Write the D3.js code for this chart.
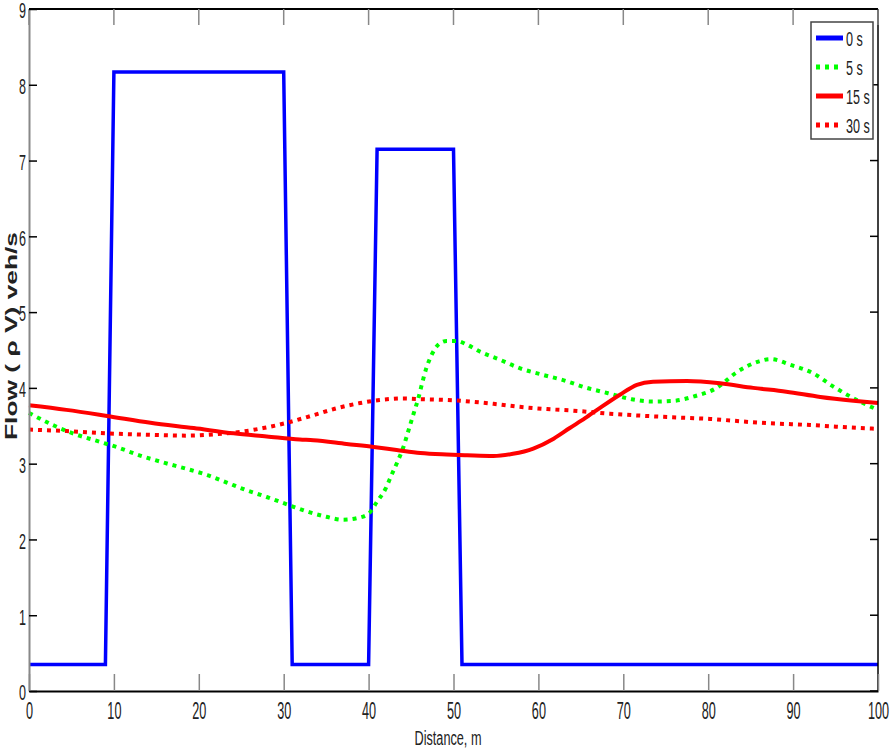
<!DOCTYPE html>
<meta charset="utf-8" />
<script src="https://d3js.org/d3.v7.min.js"></script>
<body style="margin:0;background:#fff">
<div id="my_dataviz"></div>
<script>
  // values
  const xTicks = [0, 10, 20, 30, 40, 50, 60, 70, 80, 90, 100];
  const yTicks = [0, 1, 2, 3, 4, 5, 6, 7, 8, 9];
  const seriesNames = ["0 s", "5 s", "15 s", "30 s"];

  const x0s = [0, 9, 10, 30, 31, 40, 41, 50, 51, 100];
  const y0s = [0.35, 0.35, 8.17, 8.17, 0.35, 0.35, 7.15, 7.15, 0.35, 0.35];

  const x5s = [0, 3, 5.4, 8, 10.3, 13, 16, 18.6, 21, 23.3, 25.6, 28, 30.7, 33, 35, 37, 38.6, 40, 41,
    42, 42.7, 43.5, 44.1, 44.7, 45.3, 45.9, 46.3, 46.8, 47.4, 48.2, 49.2, 50.4, 51.6, 53.1, 55.5,
    57.8, 60.6, 63, 65.7, 68.2, 71, 73.5, 76, 78.4, 81, 83.4, 86, 87.3, 89.8, 92.4, 94.7, 97.5, 100];
  const y5s = [3.67, 3.5, 3.39, 3.3, 3.22, 3.11, 3.01, 2.93, 2.85, 2.75, 2.65, 2.56, 2.45, 2.36, 2.3, 2.26, 2.28, 2.34, 2.5,
    2.67, 2.85, 3.05, 3.22, 3.44, 3.66, 3.88, 4.06, 4.26, 4.43, 4.57, 4.62, 4.62, 4.57, 4.48, 4.37,
    4.26, 4.17, 4.1, 4.0, 3.93, 3.85, 3.82, 3.83, 3.89, 4.0, 4.21, 4.35, 4.38, 4.3, 4.19, 4.02, 3.84, 3.71];

  const x15s = [0, 4.4, 9.2, 14.3, 19.4, 24.1, 28, 31.9, 33.5, 37.4, 40.6, 43.3, 46.1, 49.2, 51.6, 54.7,
    57, 59.4, 61.8, 63.7, 65.5, 67.3, 69.6, 71.6, 73.5, 77.5, 81.4, 85.3, 89.2, 93.2, 97.1, 100];
  const y15s = [3.77, 3.71, 3.63, 3.54, 3.47, 3.4, 3.36, 3.32, 3.31, 3.26, 3.22, 3.18, 3.14, 3.12, 3.11, 3.1,
    3.13, 3.2, 3.33, 3.47, 3.6, 3.74, 3.91, 4.04, 4.08, 4.09, 4.06, 4.0, 3.95, 3.88, 3.83, 3.8];

  const x30s = [0, 4.4, 9.2, 14.3, 18.6, 22.1, 24.9, 27.6, 30.4, 33.5, 36.2, 39, 41.3, 44.1, 46.4, 49.2,
    51.9, 54.7, 57.8, 61, 64.1, 68.4, 74.3, 80.2, 86.1, 92, 97.9, 100];
  const y30s = [3.45, 3.43, 3.4, 3.38, 3.37, 3.39, 3.42, 3.47, 3.54, 3.64, 3.73, 3.8, 3.84, 3.86, 3.85, 3.84,
    3.82, 3.79, 3.75, 3.72, 3.7, 3.66, 3.62, 3.59, 3.54, 3.51, 3.47, 3.46];

  const colors = ["#0000ff", "#00ff00", "#ff0000", "#ff0000"];
  const dashes = [null, "4,5", null, "4,5"];
  const widths = [3.5, 4, 4, 4];

  const series = [
    d3.zip(x0s, y0s),
    d3.zip(x5s, y5s),
    d3.zip(x15s, y15s),
    d3.zip(x30s, y30s)
  ];

  // dimensions
  var margin = { top: 9, right: 16, bottom: 63, left: 29 },
    width = 894 - margin.left - margin.right,
    height = 754 - margin.top - margin.bottom;

  var svg = d3
    .select("#my_dataviz")
    .append("svg")
    .attr("width", 894)
    .attr("height", 754)
    .style("display", "block")
    .style("font-family", "'Liberation Sans', Arial, sans-serif");

  var g = svg.append("g").attr("transform", "translate(" + margin.left + "," + margin.top + ")");

  var x = d3.scaleLinear().domain([0, 100]).range([0, width]);
  var y = d3.scaleLinear().domain([0, 9]).range([height, 0]);

  // lines
  var line = d3.line().x(d => x(d[0])).y(d => y(d[1]));
  series.forEach(function (s, i) {
    g.append("path")
      .datum(s)
      .attr("fill", "none")
      .attr("stroke", colors[i])
      .attr("stroke-width", widths[i])
      .attr("stroke-dasharray", dashes[i])
      .attr("d", line.curve(i === 0 ? d3.curveLinear : d3.curveMonotoneX));
  });

  // box
  g.append("line").attr("x1", 0).attr("x2", width).attr("y1", 0).attr("y2", 0)
    .attr("stroke", "#000").attr("stroke-width", 2);
  g.append("line").attr("x1", width).attr("x2", width).attr("y1", 0).attr("y2", height)
    .attr("stroke", "#000").attr("stroke-width", 1.5);

  // x axis (ticks inward)
  var xAxis = g.append("g")
    .attr("transform", "translate(0," + height + ")")
    .call(d3.axisBottom(x).tickValues(xTicks).tickSizeInner(-17).tickSizeOuter(0));
  xAxis.select(".domain").attr("stroke", "#000").attr("stroke-width", 2);
  xAxis.selectAll(".tick line").attr("stroke", "#888").attr("stroke-width", 1.5);
  xAxis.selectAll("text")
    .attr("y", 12)
    .attr("dy", "0.71em")
    .attr("fill", "#222")
    .style("font-size", "23px")
    .attr("transform", "scale(0.55,1)");

  // top ticks
  g.append("g").selectAll("line").data(xTicks).join("line")
    .attr("x1", d => x(d)).attr("x2", d => x(d))
    .attr("y1", 0).attr("y2", 16)
    .attr("stroke", "#888").attr("stroke-width", 1.5);

  // y axis (ticks inward)
  var yAxis = g.append("g")
    .call(d3.axisLeft(y).tickValues(yTicks).tickSizeInner(-8).tickSizeOuter(0));
  yAxis.select(".domain").attr("stroke", "#888").attr("stroke-width", 2);
  yAxis.selectAll(".tick line").attr("stroke", "#000").attr("stroke-width", 1.5);
  yAxis.selectAll("text")
    .attr("x", 0)
    .attr("dy", "0.4em")
    .attr("fill", "#222")
    .style("font-size", "22px")
    .attr("transform", "translate(-3,0) scale(0.57,1)");

  // right ticks
  g.append("g").selectAll("line").data(yTicks).join("line")
    .attr("x1", width - 8).attr("x2", width)
    .attr("y1", d => y(d)).attr("y2", d => y(d))
    .attr("stroke", "#000").attr("stroke-width", 1.5);

  // axis titles
  svg.append("text")
    .attr("x", 448)
    .attr("y", 745)
    .attr("text-anchor", "middle")
    .attr("textLength", 67)
    .attr("lengthAdjust", "spacingAndGlyphs")
    .attr("fill", "#222")
    .style("font-size", "20px")
    .text("Distance, m");

  svg.append("text")
    .attr("transform", "translate(17,336) rotate(-90)")
    .attr("text-anchor", "middle")
    .attr("textLength", 208)
    .attr("lengthAdjust", "spacingAndGlyphs")
    .attr("fill", "#222")
    .style("font-size", "17px")
    .style("font-weight", "bold")
    .text("Flow ( \u03c1 V) veh/s");

  // legend
  var legend = svg.append("g");
  legend.append("rect")
    .attr("x", 811).attr("y", 22).attr("width", 62).attr("height", 117)
    .attr("fill", "#fff").attr("stroke", "#444").attr("stroke-width", 1.5);
  var legY = [38, 67, 96, 125];
  seriesNames.forEach(function (name, i) {
    legend.append("line")
      .attr("x1", 816).attr("x2", 843)
      .attr("y1", legY[i]).attr("y2", legY[i])
      .attr("stroke", colors[i])
      .attr("stroke-width", 5)
      .attr("stroke-dasharray", dashes[i]);
    legend.append("text")
      .attr("transform", "translate(846," + legY[i] + ") scale(0.6,1)")
      .attr("dy", "0.36em")
      .attr("fill", "#222")
      .style("font-size", "21px")
      .text(name);
  });
</script>
</body>
